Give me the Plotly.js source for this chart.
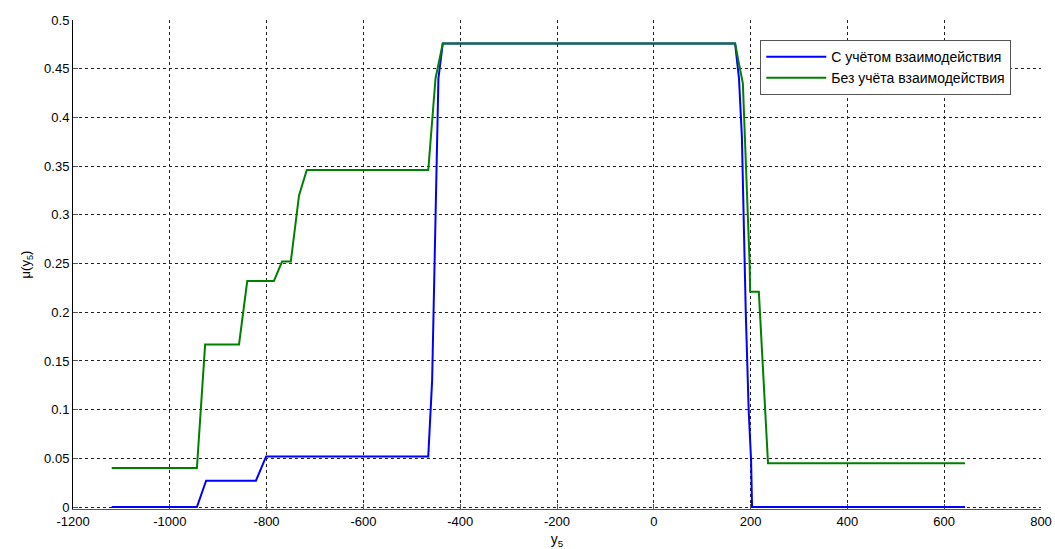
<!DOCTYPE html>
<html>
<head>
<meta charset="utf-8">
<script src="https://cdn.plot.ly/plotly-3.0.1.min.js"></script>
<style>html,body{margin:0;padding:0;background:#fff;}#chart{width:1055px;height:549px;}</style>
</head>
<body>
<div id="chart"></div>
<script>
// Series 1: with interaction (blue)
const withX = [-1120, -944, -925, -822, -801, -466, -458, -445, -436, 168, 176, 182, 190, 196, 201, 203, 643];
const withY = [0, 0, 0.027, 0.027, 0.052, 0.052, 0.13, 0.44, 0.476, 0.476, 0.44, 0.38, 0.2, 0.1, 0.048, 0, 0];
// Series 2: without interaction (green)
const withoutX = [-1120, -944, -927, -857, -840, -785, -768, -750, -733, -717, -466, -451, -436, 168, 176, 184, 198, 199, 217, 234, 236, 643];
const withoutY = [0.04, 0.04, 0.167, 0.167, 0.232, 0.232, 0.252, 0.252, 0.32, 0.346, 0.346, 0.44, 0.476, 0.476, 0.455, 0.435, 0.25, 0.221, 0.221, 0.058, 0.045, 0.045];
const seriesNames = ["С учётом взаимодействия", "Без учёта взаимодействия"];
const xTickVals = [-1200, -1000, -800, -600, -400, -200, 0, 200, 400, 600, 800];
const xTickText = ["-1200", "-1000", "-800", "-600", "-400", "-200", "0", "200", "400", "600", "800"];
const yTickVals = [0, 0.05, 0.1, 0.15, 0.2, 0.25, 0.3, 0.35, 0.4, 0.45, 0.5];
const yTickText = ["0", "0.05", "0.1", "0.15", "0.2", "0.25", "0.3", "0.35", "0.4", "0.45", "0.5"];

const traces = [
  {x: withX, y: withY, name: seriesNames[0], mode: "lines", line: {color: "#0000ff", width: 2}},
  {x: withoutX, y: withoutY, name: seriesNames[1], mode: "lines", line: {color: "#008000", width: 2}}
];
const font = {family: "Liberation Sans, Arial, sans-serif", size: 13, color: "#000"};
const layout = {
  width: 1055, height: 549,
  margin: {l: 73, r: 14, t: 20, b: 40},
  paper_bgcolor: "#fff", plot_bgcolor: "#fff",
  font: font,
  showlegend: true,
  legend: {x: 0.71, y: 0.959, xanchor: "left", yanchor: "top", bgcolor: "#fff",
           bordercolor: "#555", borderwidth: 1, font: {family: font.family, size: 14, color: "#000"},
           tracegroupgap: 0, itemwidth: 60},
  xaxis: {
    range: [-1200, 800], tickvals: xTickVals, ticktext: xTickText,
    showgrid: true, gridcolor: "#222", griddash: "3px,3px", gridwidth: 1,
    zeroline: false, showline: true, linecolor: "#555", linewidth: 1,
    ticks: "inside", ticklen: 5, tickcolor: "#555", layer: "below traces",
    title: {text: "y<sub>5</sub>", font: {size: 14}, standoff: 6},
    fixedrange: true
  },
  yaxis: {
    range: [-0.002, 0.5], tickvals: yTickVals, ticktext: yTickText,
    showgrid: true, gridcolor: "#222", griddash: "3px,3px", gridwidth: 1,
    zeroline: false, showline: true, linecolor: "#000", linewidth: 1,
    ticks: "inside", ticklen: 5, tickcolor: "#555", layer: "below traces",
    title: {text: "μ(y<sub>5</sub>)", font: {size: 13}, standoff: 10},
    fixedrange: true
  }
};
Plotly.newPlot("chart", traces, layout, {displayModeBar: false, staticPlot: true});
</script>
</body>
</html>
